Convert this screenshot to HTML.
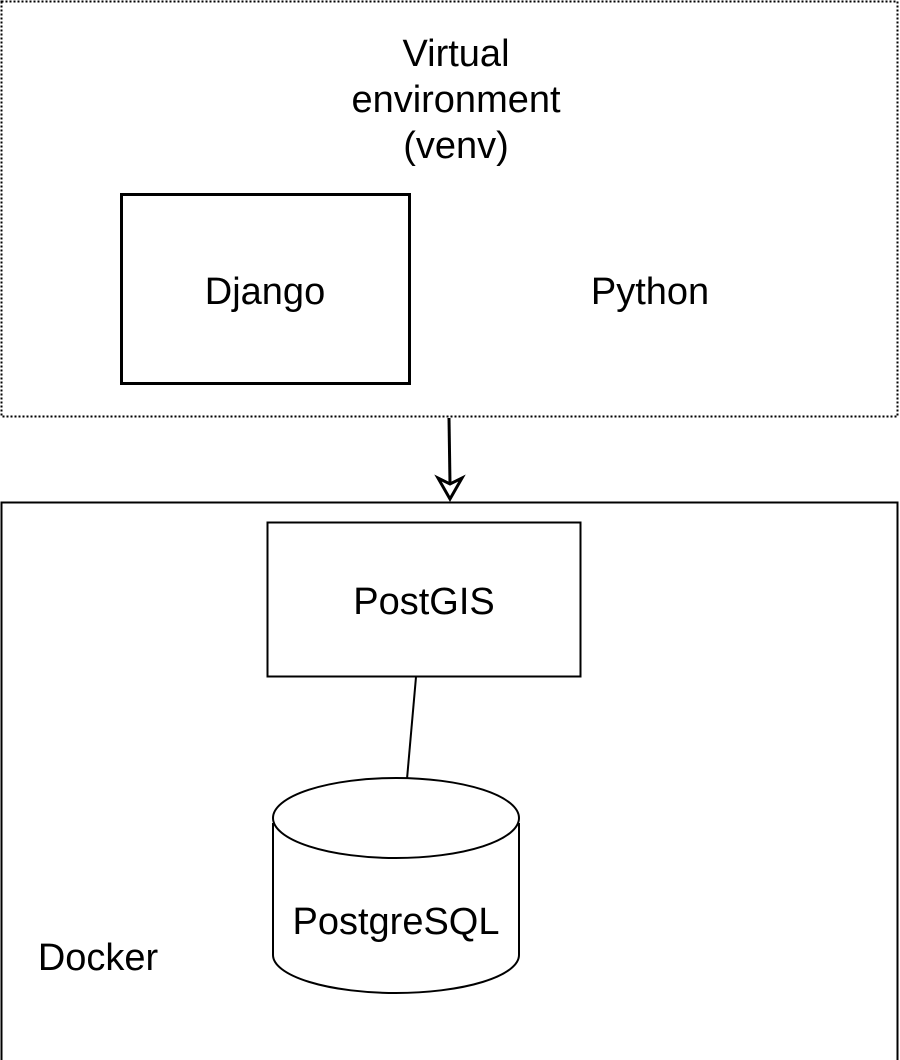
<!DOCTYPE html>
<html><head><style>html,body{margin:0;padding:0;background:#fff;}</style></head>
<body>
<svg width="900" height="1060" xmlns="http://www.w3.org/2000/svg" style="display:block">
<g font-family="Liberation Sans, sans-serif" font-size="38" fill="#000">
<rect x="1.5" y="1.5" width="896" height="415" fill="none" stroke="#000" stroke-width="2" stroke-dasharray="2,2"/>
<rect x="1.5" y="502.5" width="896" height="600" fill="none" stroke="#000" stroke-width="2"/>
<text x="456" y="66" text-anchor="middle">Virtual</text>
<text x="456" y="112" text-anchor="middle">environment</text>
<text x="456" y="158" text-anchor="middle">(venv)</text>
<rect x="121.5" y="194.5" width="288" height="189" fill="none" stroke="#000" stroke-width="3"/>
<text x="265" y="304" text-anchor="middle">Django</text>
<text x="650" y="304" text-anchor="middle">Python</text>
<line x1="449" y1="418" x2="450" y2="484" stroke="#000" stroke-width="3"/>
<path d="M438,478 L450,499 L462,478 L450,484 Z" fill="#fff" stroke="#000" stroke-width="3" stroke-linejoin="miter"/>
<rect x="267.5" y="522.5" width="313" height="154" fill="none" stroke="#000" stroke-width="2"/>
<text x="424" y="614" text-anchor="middle">PostGIS</text>
<line x1="416" y1="677" x2="407" y2="779" stroke="#000" stroke-width="2"/>
<path d="M273,823 L273,955 A123,38 0 0 0 519,955 L519,823" fill="#fff" stroke="#000" stroke-width="2"/>
<ellipse cx="396" cy="818" rx="123" ry="40" fill="#fff" stroke="#000" stroke-width="2"/>
<text x="396" y="934" text-anchor="middle">PostgreSQL</text>
<text x="98" y="970" text-anchor="middle">Docker</text>
</g>
</svg>
</body></html>
